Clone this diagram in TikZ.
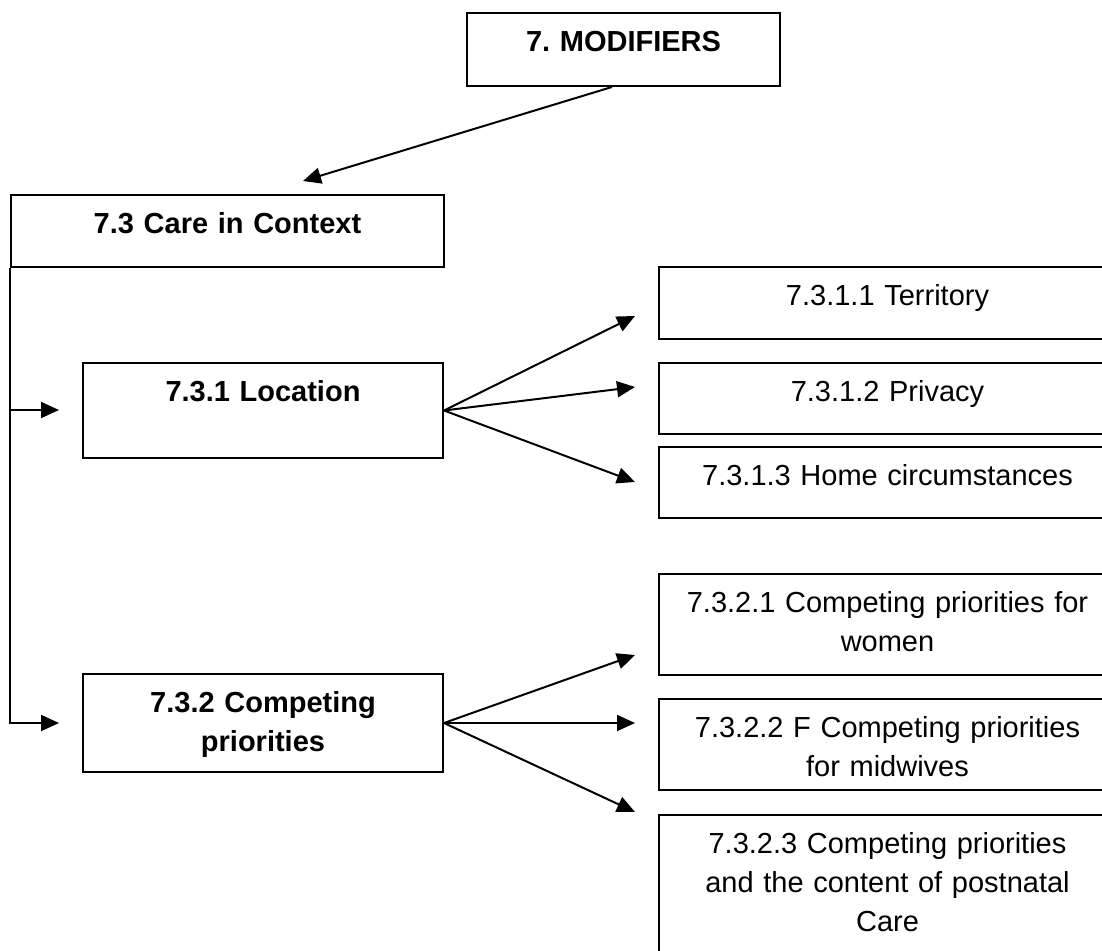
\documentclass[tikz,border=0pt]{standalone}
\usepackage{fontspec}
\setmainfont{Liberation Sans}
\frenchspacing
\usetikzlibrary{arrows.meta,positioning}
\tikzset{
box/.style = {draw, fill=white, rectangle, line width=0.35mm, inner sep=0pt, align=center, text height=19.25pt, font=\fontsize{14.5pt}{19.5pt}\selectfont},
headbox/.style = {box, font=\fontsize{14.5pt}{19.5pt}\selectfont\bfseries},
subbox/.style = {box, text width=228.5pt},
tip/.style = {coordinate}
}
\begin{document}
\begin{tikzpicture}[x=0.5pt, y=-0.5pt, >={Triangle[length=9pt,width=8pt]}]
	\useasboundingbox (0,0) rectangle (1102,951);
	\clip (0,0) rectangle (1102,951);
	% main boxes
	\node[headbox, text width=156.5pt, text depth=17.25pt] (mod) at (623.5,49.5) {7. MODIFIERS};
	\node[headbox, text width=216.5pt, text depth=16.75pt] (care) at (227.5,231) {7.3 Care in Context};
	\node[headbox, text width=180pt, text depth=28.25pt] (loc) at (263,410.5) {7.3.1 Location};
	\node[headbox, text width=180pt, text depth=29.75pt] (comp) at (263,723) {7.3.2 Competing\\ priorities};
	% sub boxes
	\node[subbox, text depth=16.75pt] (terr) at (887.5,303) {7.3.1.1 Territory};
	\node[subbox, text depth=16.25pt, below of=terr, node distance=47.75pt] (priv) {7.3.1.2 Privacy};
	\node[subbox, text depth=16.25pt, below of=priv, node distance=42pt] (home) {7.3.1.3 Home circumstances};
	\node[subbox, text depth=31.25pt, below of=home, node distance=71pt] (women) {7.3.2.1 Competing priorities for\\ women};
	\node[subbox, text depth=26.25pt, below of=women, node distance=60pt] (midw) {7.3.2.2 F Competing priorities\\ for midwives};
	\node[subbox, text depth=80.75pt, below of=midw, node distance=85.25pt] (content) {7.3.2.3 Competing priorities\\ and the content of postnatal\\ Care};
	% arrow ends
	\node[tip] (modtip) at (303,181) {};
	\node[tip] (loctip) at (59,410) {};
	\node[tip] (comptip) at (59,723) {};
	\node[tip] (terrtip) at (635,316) {};
	\node[tip] (privtip) at (635,387) {};
	\node[tip] (hometip) at (635,482) {};
	\node[tip] (womentip) at (635,655) {};
	\node[tip] (midwtip) at (635,723) {};
	\node[tip] (contenttip) at (635,812) {};
	\draw[->,line width=0.35mm] ([xshift=-5.75pt]mod.south) -- (modtip);
	\draw[->,line width=0.35mm] (care.south west) |- (comptip);
	\draw[->,line width=0.35mm] (care.south west |- loctip) -- (loctip);
	\draw[->,line width=0.35mm] (loc.east) -- (terrtip);
	\draw[->,line width=0.35mm] (loc.east) -- (privtip);
	\draw[->,line width=0.35mm] (loc.east) -- (hometip);
	\draw[->,line width=0.35mm] (comp.east) -- (womentip);
	\draw[->,line width=0.35mm] (comp.east) -- (midwtip);
	\draw[->,line width=0.35mm] (comp.east) -- (contenttip);
\end{tikzpicture}
\end{document}
